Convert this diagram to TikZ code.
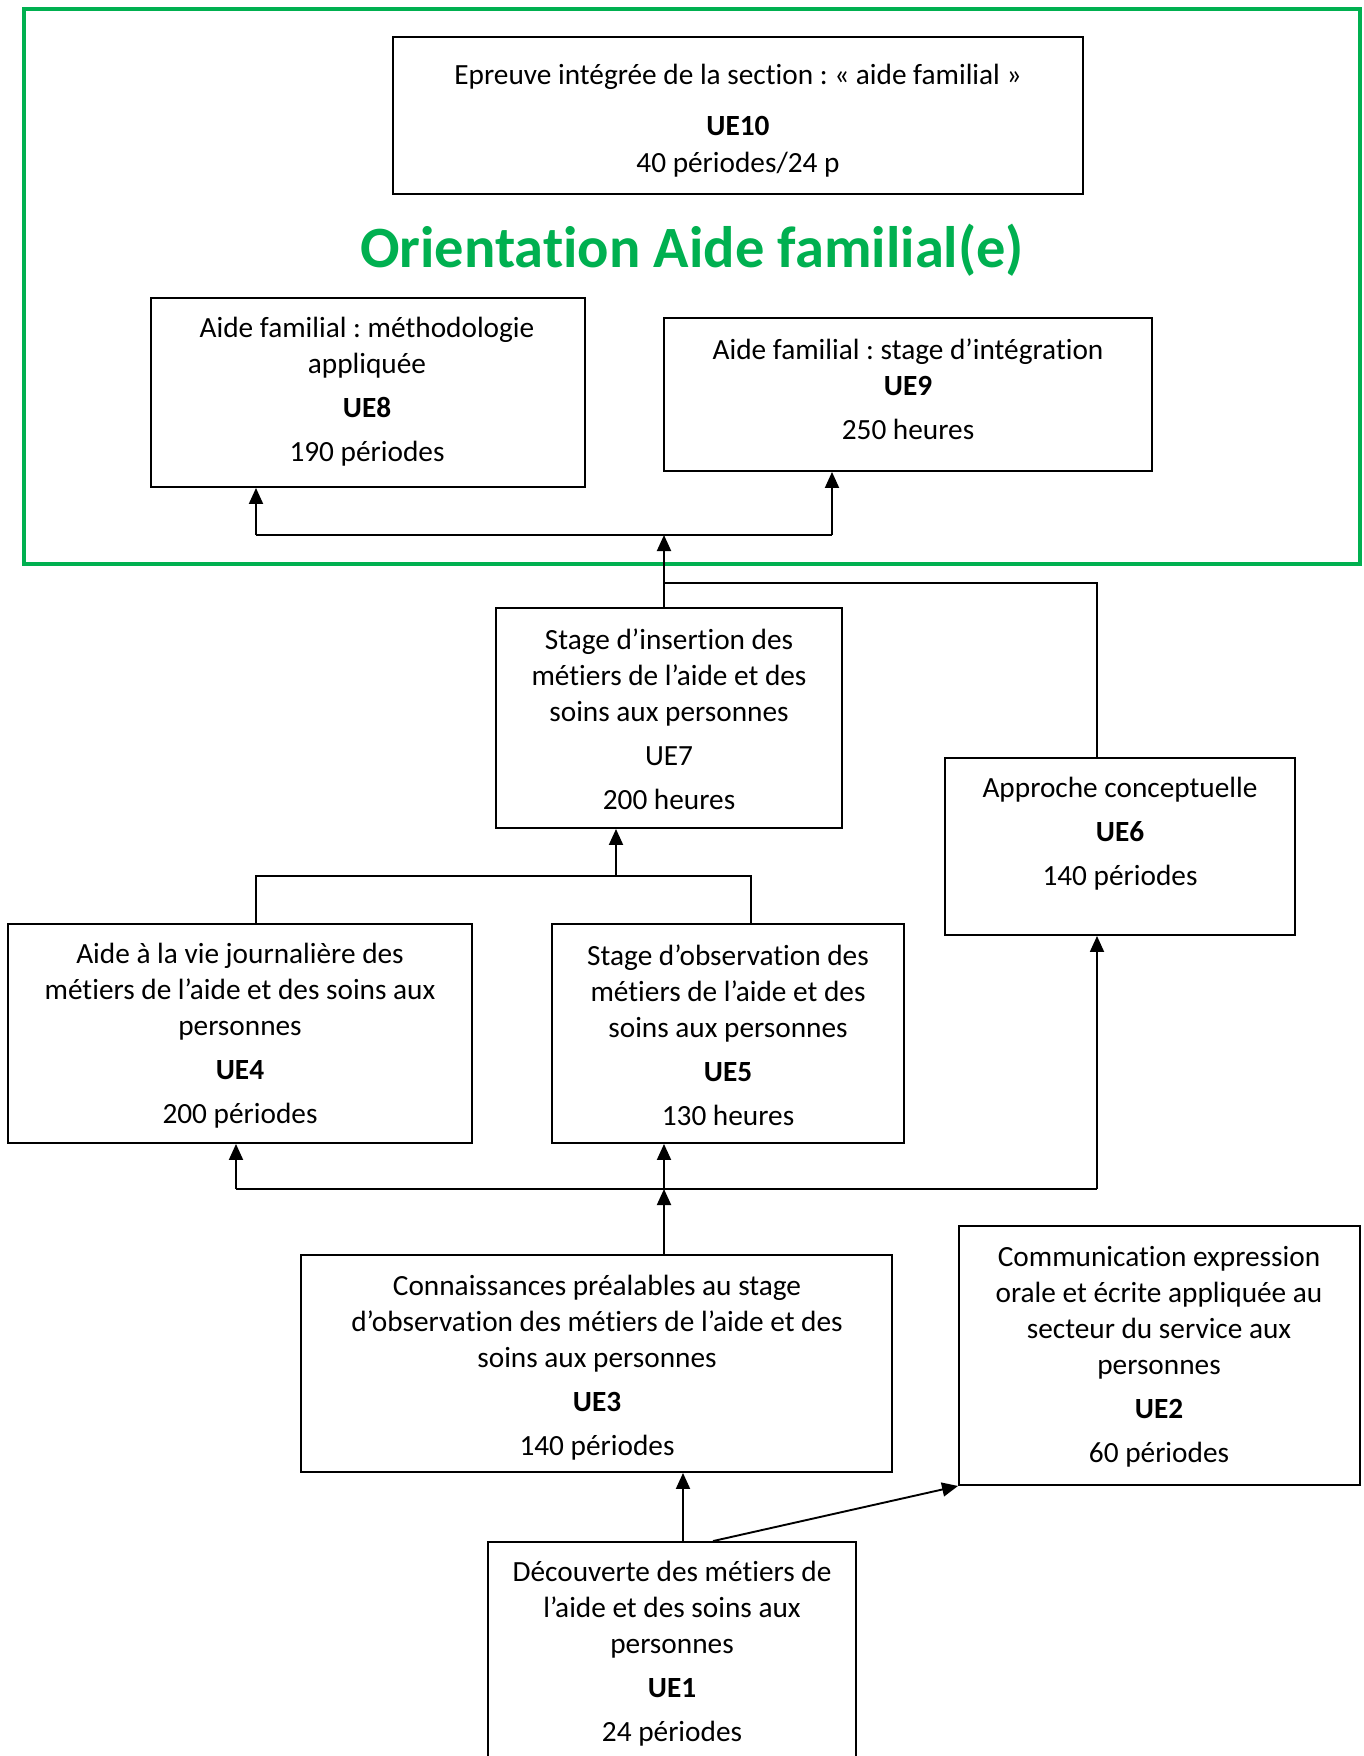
\documentclass[tikz,border=0pt]{standalone}
\usepackage{fontspec}
\setmainfont{Carlito}[Ligatures=NoCommon]
\usetikzlibrary{arrows.meta}
\definecolor{wgreen}{HTML}{00B050}
\frenchspacing
\begin{document}
\begin{tikzpicture}[x=1pt,y=-1pt,
  box/.style={draw=black,line width=1.9pt,inner sep=0pt,rectangle},
  txt/.style={align=center,inner sep=0pt,yshift=-2.5pt,font=\fontsize{29.3}{36}\selectfont},
  conn/.style={line width=1.9pt},
  arr/.style={line width=1.9pt,-{Triangle[length=16pt,width=14pt]}}]
\useasboundingbox (0,0) rectangle (1363,1756);
\fill[white] (0,0) rectangle (1363,1756);
% green frame
\node[draw=wgreen,line width=4.5pt,minimum width=1336pt,minimum height=555pt,inner sep=0pt] (frame) at (691.75,286.5) {};
\node[font=\bfseries\fontsize{58.5}{60}\selectfont,text=wgreen,inner sep=0pt] (title) at (692,250.5) {Orientation Aide familial(e)};
% boxes
\node[box,minimum width=690pt,minimum height=157pt] (ue10) at (738,115.5) {};
\node[txt] (ue10t) at (738,118) {Epreuve intégrée de la section~: «~aide familial~»\\[15pt]\textbf{UE10}\\[1pt]40 périodes/24 p};
\node[box,minimum width=434pt,minimum height=189pt] (ue8) at (368,392.5) {};
\node[txt] (ue8t) at (367,389) {Aide familial~: méthodologie\\appliquée\\[8pt]\textbf{UE8}\\[8pt]190 périodes};
\node[box,minimum width=488pt,minimum height=153pt] (ue9) at (908,394.5) {};
\node[txt] (ue9t) at (908,387) {Aide familial~: stage d’intégration\\\textbf{UE9}\\[8pt]250 heures};
\node[box,minimum width=346pt,minimum height=220pt] (ue7) at (669,718) {};
\node[txt] (ue7t) at (669,716.5) {Stage d’insertion des\\métiers de l’aide et des\\soins aux personnes\\[8pt]UE7\\[8pt]200 heures};
\node[box,minimum width=350pt,minimum height=177pt] (ue6) at (1120,846.5) {};
\node[txt] (ue6t) at (1120,831.5) {Approche conceptuelle\\[8pt]\textbf{UE6}\\[8pt]140 périodes};
\node[box,minimum width=464pt,minimum height=219pt] (ue4) at (240,1033.5) {};
\node[txt] (ue4t) at (240,1033) {Aide à la vie journalière des\\métiers de l’aide et des soins aux\\personnes\\[8pt]\textbf{UE4}\\[8pt]200 périodes};
\node[box,minimum width=352pt,minimum height=219pt] (ue5) at (728,1033.5) {};
\node[txt] (ue5t) at (728,1033) {Stage d’observation des\\métiers de l’aide et des\\soins aux personnes\\[8pt]\textbf{UE5}\\[8pt]130 heures};
\node[box,minimum width=591pt,minimum height=217pt] (ue3) at (596.5,1363.5) {};
\node[txt] (ue3t) at (597,1365) {Connaissances préalables au stage\\d’observation des métiers de l’aide et des\\soins aux personnes\\[8pt]\textbf{UE3}\\[8pt]140 périodes};
\node[box,minimum width=401pt,minimum height=259pt] (ue2) at (1159.5,1355.5) {};
\node[txt] (ue2t) at (1159,1354) {Communication expression\\orale et écrite appliquée au\\secteur du service aux\\personnes\\[8pt]\textbf{UE2}\\[8pt]60 périodes};
\node[box,minimum width=368pt,minimum height=280pt] (ue1) at (672,1682) {};
\node[txt] (ue1t) at (672,1651) {Découverte des métiers de\\l’aide et des soins aux\\personnes\\[8pt]\textbf{UE1}\\[8pt]24 périodes};
% junction coordinates
\coordinate (j1) at (664,535);
\coordinate (j1l) at (256,535);
\coordinate (j1r) at (832,535);
\coordinate (j2) at (664,583);
\coordinate (j2r) at (1097,583);
\coordinate (j3) at (616,876);
\coordinate (j3l) at (256,876);
\coordinate (j3r) at (751,876);
\coordinate (j4) at (664,1189);
\coordinate (j4l) at (236,1189);
\coordinate (j4r) at (1097,1189);
% connectors
\draw[conn] (j1l) -- (j1r);
\draw[arr] (j1l) -- (j1l |- ue8.south);
\draw[arr] (j1r) -- (j1r |- ue9.south);
\draw[arr] (j1 |- ue7.north) -- (j1);
\draw[conn] (j2) -- (j2r) -- (j2r |- ue6.north);
\draw[conn] (j3l |- ue4.north) -- (j3l) -- (j3r) -- (j3r |- ue5.north);
\draw[arr] (j3) -- (j3 |- ue7.south);
\draw[conn] (j4l) -- (j4r);
\draw[arr] (j4l) -- (j4l |- ue4.south);
\draw[arr] (j4) -- (j4 |- ue5.south);
\draw[arr] (j4r) -- (j4r |- ue6.south);
\draw[arr] (j4 |- ue3.north) -- (j4);
\draw[arr] ([xshift=11pt]ue1.north) -- ([xshift=11pt]ue1.north |- ue3.south);
\draw[arr] ([xshift=41pt]ue1.north) -- (ue2.south west);
\end{tikzpicture}
\end{document}
